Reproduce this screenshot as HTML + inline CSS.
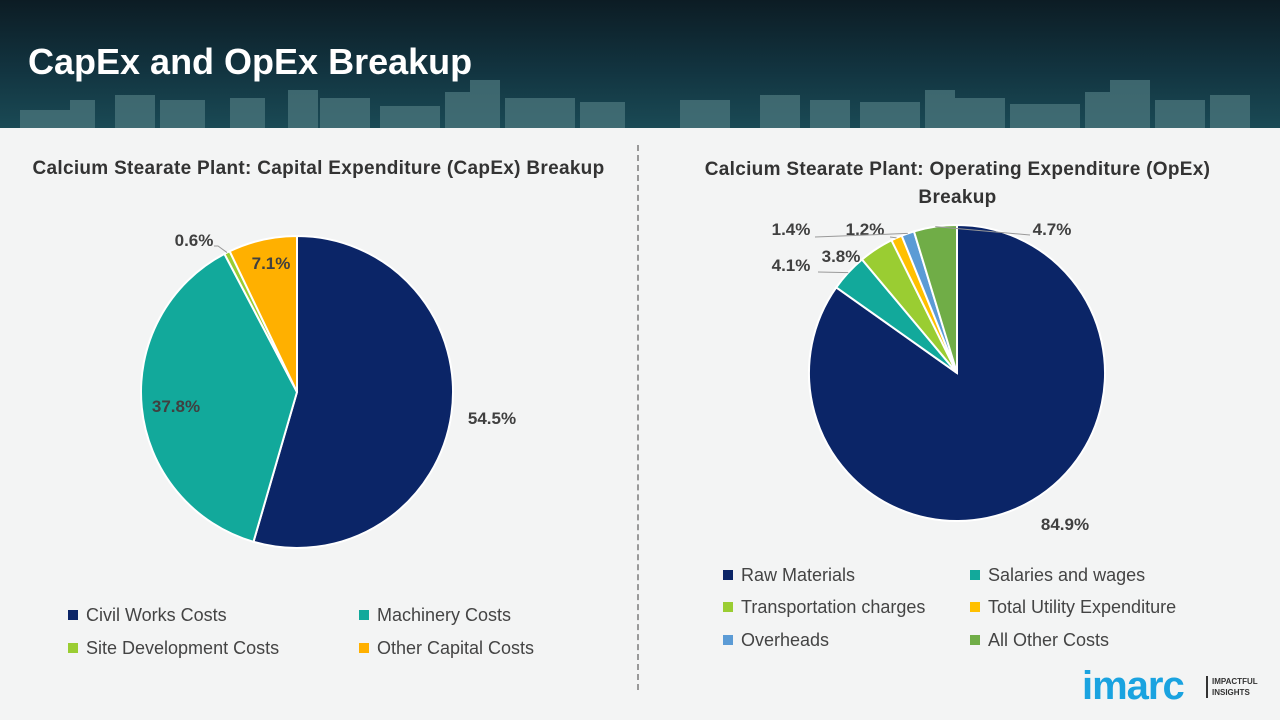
<!DOCTYPE html>
<html><head><meta charset="utf-8"><style>
body{margin:0;width:1280px;height:720px;overflow:hidden;font-family:"Liberation Sans",sans-serif;background:#f3f4f4;position:relative}
.hdr{position:absolute;left:0;top:0;width:1280px;height:128px;background:linear-gradient(180deg,#0c1c24 0%,#123440 55%,#1a4a55 100%)}
.title{position:absolute;left:28px;top:41px;color:#fff;font-weight:bold;font-size:36px}
.ct{position:absolute;font-weight:bold;font-size:19px;color:#333;text-align:center;letter-spacing:0.3px}
.leg{position:absolute;font-size:18px;color:#444}
.leg span.sq{display:inline-block;width:10px;height:10px;margin-right:8px;vertical-align:1px}
.div{position:absolute;left:637px;top:145px;height:545px;border-left:2px dashed #999}
</style></head><body>
<div class="hdr">
<svg width="1280" height="128" style="position:absolute;left:0;top:0">
<g fill="#4f7a80" opacity="0.7">
<rect x="20" y="110" width="60" height="18"/><rect x="70" y="100" width="25" height="28"/><rect x="115" y="95" width="40" height="33"/><rect x="160" y="100" width="45" height="28"/><rect x="230" y="98" width="35" height="30"/><rect x="288" y="90" width="30" height="38"/><rect x="320" y="98" width="50" height="30"/><rect x="380" y="106" width="60" height="22"/><rect x="445" y="92" width="30" height="36"/><rect x="470" y="80" width="30" height="48"/><rect x="505" y="98" width="70" height="30"/><rect x="580" y="102" width="45" height="26"/>
<rect x="680" y="100" width="50" height="28"/><rect x="760" y="95" width="40" height="33"/><rect x="810" y="100" width="40" height="28"/><rect x="860" y="102" width="60" height="26"/><rect x="925" y="90" width="30" height="38"/><rect x="955" y="98" width="50" height="30"/><rect x="1010" y="104" width="70" height="24"/><rect x="1085" y="92" width="25" height="36"/><rect x="1110" y="80" width="40" height="48"/><rect x="1155" y="100" width="50" height="28"/><rect x="1210" y="95" width="40" height="33"/>
</g></svg>
<div class="title">CapEx and OpEx Breakup</div>
</div>
<div class="div"></div>
<div class="ct" style="left:0px;top:158px;width:637px">Calcium Stearate Plant: Capital Expenditure (CapEx) Breakup</div>
<div class="ct" style="left:640px;top:156px;width:635px;line-height:28px">Calcium Stearate Plant: Operating Expenditure (OpEx)<br>Breakup</div>
<svg id="chart" width="1280" height="720" style="position:absolute;left:0;top:0"></svg>
<div class="leg" style="left:68px;top:605px"><span class="sq" style="background:#0b2567"></span>Civil Works Costs</div>
<div class="leg" style="left:359px;top:605px"><span class="sq" style="background:#12a99b"></span>Machinery Costs</div>
<div class="leg" style="left:68px;top:638px"><span class="sq" style="background:#9acd32"></span>Site Development Costs</div>
<div class="leg" style="left:359px;top:638px"><span class="sq" style="background:#ffb000"></span>Other Capital Costs</div>
<div class="leg" style="left:723px;top:565px"><span class="sq" style="background:#0b2567"></span>Raw Materials</div>
<div class="leg" style="left:970px;top:565px"><span class="sq" style="background:#12a99b"></span>Salaries and wages</div>
<div class="leg" style="left:723px;top:597px"><span class="sq" style="background:#9acd32"></span>Transportation charges</div>
<div class="leg" style="left:970px;top:597px"><span class="sq" style="background:#ffc000"></span>Total Utility Expenditure</div>
<div class="leg" style="left:723px;top:630px"><span class="sq" style="background:#5b9bd5"></span>Overheads</div>
<div class="leg" style="left:970px;top:630px"><span class="sq" style="background:#70ad47"></span>All Other Costs</div>
<div style="position:absolute;left:1082px;top:664px;font-size:40px;font-weight:bold;color:#1aa3e0;letter-spacing:-1px">imarc</div>
<div style="position:absolute;left:1206px;top:676px;border-left:2px solid #333;padding-left:4px;font-size:8px;font-weight:bold;color:#333;line-height:11px">IMPACTFUL<br>INSIGHTS</div>
<script>
const capexCats=["Civil Works Costs","Machinery Costs","Site Development Costs","Other Capital Costs"];
const capexVals=[54.5,37.8,0.6,7.1];
const capexLabels=["54.5%","37.8%","0.6%","7.1%"];
const opexCats=["Raw Materials","Salaries and wages","Transportation charges","Total Utility Expenditure","Overheads","All Other Costs"];
const opexVals=[84.9,4.1,3.8,1.2,1.4,4.7];
const opexLabels=["84.9%","4.1%","3.8%","1.2%","1.4%","4.7%"];
const capexColors=["#0b2567","#12a99b","#9acd32","#ffb000"];
const opexColors=["#0b2567","#12a99b","#9acd32","#ffc000","#5b9bd5","#70ad47"];
const NS="http://www.w3.org/2000/svg";
const svg=document.getElementById('chart');
function pt(cx,cy,r,a){return [cx+r*Math.sin(a),cy-r*Math.cos(a)];}
function pie(cx,cy,r,vals,colors,labels,lpos,name){
  const tot=vals.reduce((a,b)=>a+b,0);let a0=0;
  vals.forEach((v,i)=>{
    const a1=a0+v/tot*2*Math.PI;
    const p0=pt(cx,cy,r,a0),p1=pt(cx,cy,r,a1);
    const p=document.createElementNS(NS,'path');
    p.setAttribute('d',`M${cx},${cy}L${p0[0]},${p0[1]}A${r},${r} 0 ${a1-a0>Math.PI?1:0} 1 ${p1[0]},${p1[1]}Z`);
    p.setAttribute('fill',colors[i]);p.setAttribute('stroke','#fff');p.setAttribute('stroke-width','2');
    
    
    svg.appendChild(p);
    const lp=lpos[i];
    if(lp.line){const m=pt(cx,cy,r,(a0+a1)/2);const l=document.createElementNS(NS,'polyline');
      l.setAttribute('points',`${m[0]},${m[1]} ${lp.line[0]},${lp.line[1]} ${lp.line[2]},${lp.line[1]}`);
      l.setAttribute('fill','none');l.setAttribute('stroke','#999');l.setAttribute('stroke-width','1');
      
      
      svg.appendChild(l);}
    const t=document.createElementNS(NS,'text');
    t.setAttribute('x',lp.x);t.setAttribute('y',lp.y);t.setAttribute('text-anchor','middle');
    t.setAttribute('font-size','17');t.setAttribute('font-weight','bold');t.setAttribute('fill','#404040');
    t.setAttribute('font-family','Liberation Sans, sans-serif');t.textContent=labels[i];
    
    
    svg.appendChild(t);
    a0=a1;
  });
}
pie(297,392,156,capexVals,capexColors,capexLabels,
 [{x:492,y:424},{x:176,y:412},{x:194,y:246,line:[218,246,214]},{x:271,y:269}],'capex');
pie(957,373,148,opexVals,opexColors,opexLabels,
 [{x:1065,y:530},{x:791,y:271,line:[818,272,818]},{x:841,y:262},{x:865,y:235,line:[890,237,890]},{x:791,y:235,line:[815,237,815]},{x:1052,y:235,line:[1030,235,1030]}],'opex');
</script>
</body></html>
